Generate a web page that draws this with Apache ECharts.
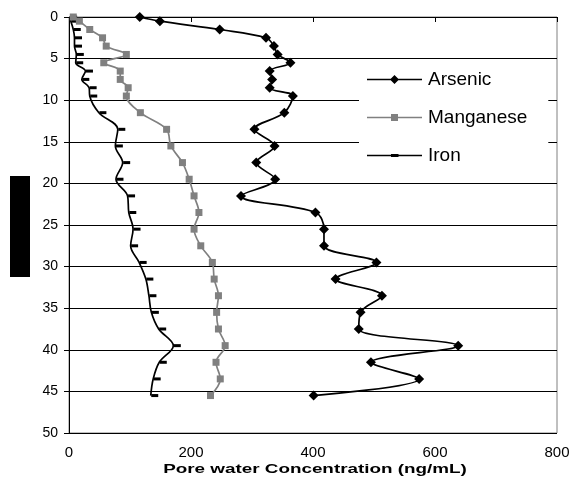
<!DOCTYPE html>
<html>
<head>
<meta charset="utf-8">
<script src="https://cdn.jsdelivr.net/npm/echarts@6/dist/echarts.min.js"></script>
<style>html,body{margin:0;padding:0;background:#fff}#c{width:574px;height:493px}</style>
</head>
<body>
<div id="c"></div>
<script>
var depths = [0,0.5,1.5,2.5,3.5,4.5,5.5,6.5,7.5,8.5,9.5,11.5,13.5,15.5,17.5,19.5,21.5,23.5,25.5,27.5,29.5,31.5,33.5,35.5,37.5,39.5,41.5,43.5,45.5];
var arsenic = [116,149,247,323,336,342,363,329,333,329,367,353,304,337,307,338,282,404,418,418,504,437,513,478,475,638,495,574,401];
var manganese = [7,17,34,55,61,94,57,84,84,97,94,117,160,167,186,197,205,213,205,216,235,238,245,242,245,256,241,248,232];
var iron = [1,3,7,9,9,12,11,27,21,33,34,49,80,76,88,77,96,98,105,101,115,126,131,135,147,171,148,138,134];
var seriesNames = ['Arsenic','Manganese','Iron'];
var xTitle = 'Pore water Concentration (ng/mL)';

function pairs(vals){ return vals.map(function(v,i){ return [v, depths[i]]; }); }

var FONT = '"Liberation Sans", Arial, sans-serif';
var splitColors = ['#808080'];
for (var k=1;k<11;k++) splitColors.push('#000');

var lineBar = 'M0,4.25 H55 V5.75 H0 Z ';
var icons = [
  'path://' + lineBar + 'M27.5,0.5 L32,5 L27.5,9.5 L23,5 Z M0,0 H0.01 V10 H0 Z',
  'path://' + lineBar + 'M24,1.5 H31 V8.5 H24 Z M0,0 H0.01 V10 H0 Z',
  'path://' + lineBar + 'M24,3.5 H31.5 V6.5 H24 Z M0,0 H0.01 V10 H0 Z'
];

var chart = echarts.init(document.getElementById('c'), null, {renderer:'canvas'});
chart.setOption({
  animation:false,
  backgroundColor:'#fff',
  grid:{left:69,right:17,top:17,bottom:60,show:true,borderColor:'#808080',borderWidth:1,backgroundColor:'transparent'},
  xAxis:{type:'value',min:0,max:800,interval:200,
    axisLine:{show:true,lineStyle:{color:'#000',width:1}},
    axisTick:{show:true,inside:false,length:5,lineStyle:{color:'#000'}},
    axisLabel:{color:'#000',fontSize:15,fontFamily:FONT,margin:12},
    splitLine:{show:false}},
  yAxis:{type:'value',inverse:true,min:0,max:50,interval:5,
    axisLine:{show:true,lineStyle:{color:'#000',width:1}},
    axisTick:{show:true,inside:false,length:5,lineStyle:{color:'#000'}},
    axisLabel:{color:'#000',fontSize:14,fontFamily:FONT,margin:11},
    splitLine:{show:true,lineStyle:{color:splitColors,width:1}}},
  legend:{orient:'vertical',left:359,top:62,padding:[8,21,8,8],backgroundColor:'#fff',
    itemWidth:55,itemHeight:10,itemGap:19,
    textStyle:{fontSize:19,color:'#000',fontFamily:FONT,padding:[0,0,0,1]},
    data:seriesNames.map(function(n,i){ return {name:n, icon:icons[i]}; })},
  series:[
    {name:seriesNames[0],type:'line',data:pairs(arsenic),smooth:0.35,
      symbol:'diamond',symbolSize:10,showAllSymbol:true,
      lineStyle:{color:'#000',width:1.7},itemStyle:{color:'#000'},z:5},
    {name:seriesNames[1],type:'line',data:pairs(manganese),smooth:0.35,
      symbol:'rect',symbolSize:7,showAllSymbol:true,
      lineStyle:{color:'#808080',width:1.7},itemStyle:{color:'#808080'},z:4},
    {name:seriesNames[2],type:'line',data:pairs(iron),smooth:0.35,
      symbol:'rect',symbolSize:[7,3],symbolOffset:[4,0],showAllSymbol:true,
      lineStyle:{color:'#000',width:1.7},itemStyle:{color:'#000'},z:3}
  ],
  graphic:[
    {type:'rect',left:10,top:176,shape:{width:20,height:101},style:{fill:'#000'}},
    {type:'text',x:315,y:469,scaleX:1.45,originX:0,originY:0,style:{text:xTitle,fill:'#000',font:'bold 13px "Liberation Sans", Arial, sans-serif',textAlign:'center',textVerticalAlign:'middle'}}
  ]
});
</script>
</body>
</html>
